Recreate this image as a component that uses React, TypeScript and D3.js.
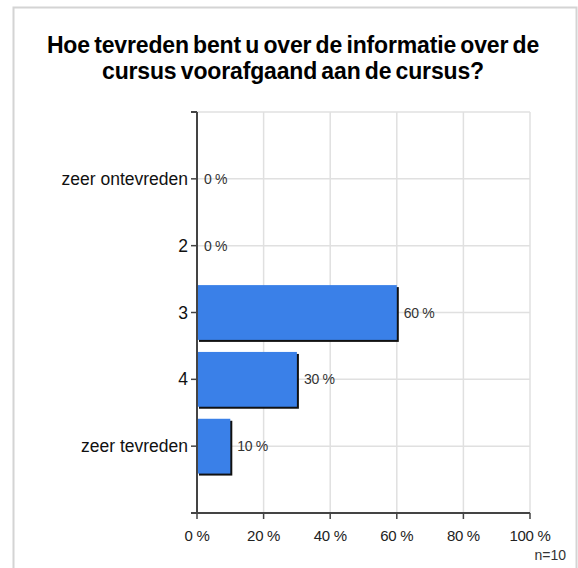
import React from "react";
import * as d3 from "d3";

const categories = ["zeer ontevreden", "2", "3", "4", "zeer tevreden"];
const values = [0, 0, 60, 30, 10];
const xTicks = [0, 20, 40, 60, 80, 100];
const titleLines = [
  "Hoe tevreden bent u over de informatie over de",
  "cursus voorafgaand aan de cursus?",
];
const nLabel = "n=10";

export default function App() {
  const W = 578, H = 568;
  const left = 197, right = 530, top = 112, bottom = 513;
  const x = d3.scaleLinear().domain([0, 100]).range([left, right]);
  const y = d3.scalePoint<string>().domain(categories).range([top, bottom]).padding(1);
  const barH = y.step() * 0.82;
  const font = "Arial, 'Liberation Sans', sans-serif";
  return (
    <svg width={W} height={H} style={{ position: "absolute", left: 0, top: 0 }}>
      <rect x={0} y={0} width={W} height={H} fill="#fff" />
      <rect x={13.5} y={7.5} width={563} height={600} fill="#fff" stroke="#d4d4d4" strokeWidth={2} />
      {titleLines.map((t, i) => (
        <text key={i} x={293} y={53 + i * 26} textAnchor="middle" fontFamily={font} fontWeight="bold" fontSize={23} letterSpacing={-0.15} wordSpacing={-2} fill="#000">
          {t}
        </text>
      ))}
      {/* grid */}
      {xTicks.slice(1).map((t) => (
        <line key={"gx" + t} x1={x(t)} x2={x(t)} y1={top} y2={bottom} stroke="#e0e0e0" strokeWidth={1.5} />
      ))}
      <line x1={left} x2={right} y1={top} y2={top} stroke="#e0e0e0" strokeWidth={1.5} />
      {categories.map((c) => (
        <line key={"gy" + c} x1={left} x2={right} y1={y(c)!} y2={y(c)!} stroke="#e0e0e0" strokeWidth={1.5} />
      ))}
      {/* bars */}
      {categories.map((c, i) =>
        values[i] > 0 ? (
          <g key={"b" + c}>
            <rect x={x(0) + 2} y={y(c)! - barH / 2 + 2} width={x(values[i]) - x(0)} height={barH} fill="#111" />
            <rect x={x(0)} y={y(c)! - barH / 2} width={x(values[i]) - x(0)} height={barH} fill="#3a80e8" />
          </g>
        ) : null
      )}
      {/* value labels */}
      {categories.map((c, i) => (
        <text key={"v" + c} x={x(values[i]) + 7} y={y(c)! + 5} fontFamily={font} fontSize={14} letterSpacing={-0.3} fill="#333">
          {values[i] + " %"}
        </text>
      ))}
      {/* axes */}
      <line x1={left} x2={left} y1={top} y2={bottom} stroke="#444" strokeWidth={2} />
      <line x1={left - 6} x2={right} y1={bottom} y2={bottom} stroke="#444" strokeWidth={2} />
      <line x1={left - 6} x2={left} y1={top} y2={top} stroke="#444" strokeWidth={2} />
      {categories.map((c) => (
        <g key={"yt" + c}>
          <line x1={left - 6} x2={left} y1={y(c)!} y2={y(c)!} stroke="#444" strokeWidth={1.5} />
          <text x={left - 9} y={y(c)! + 6} textAnchor="end" fontFamily={font} fontSize={17.5} fill="#111">
            {c}
          </text>
        </g>
      ))}
      {xTicks.map((t) => (
        <g key={"xt" + t}>
          <line x1={x(t)} x2={x(t)} y1={bottom} y2={bottom + 6} stroke="#444" strokeWidth={1.5} />
          <text x={x(t)} y={541} textAnchor="middle" fontFamily={font} fontSize={15} letterSpacing={-0.3} fill="#222">
            {t + " %"}
          </text>
        </g>
      ))}
      <text x={566} y={560} textAnchor="end" fontFamily={font} fontSize={14} fill="#333">
        {nLabel}
      </text>
    </svg>
  );
}
